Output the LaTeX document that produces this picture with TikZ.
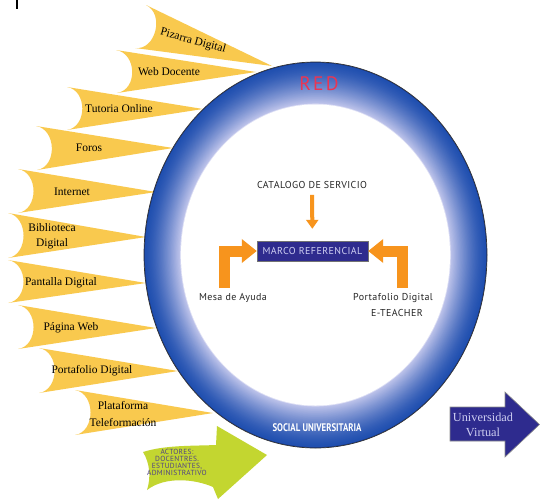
\documentclass[tikz,border=0pt]{standalone}
\usepackage{fontspec}
\setmainfont{Liberation Serif}
\newfontfamily\csans[LetterSpace=4]{PT Sans}
\newfontfamily\rsans[LetterSpace=12]{PT Sans}
\newfontfamily\bsans{PT Sans}
\usetikzlibrary{calc,arrows.meta}
\definecolor{petal}{HTML}{F9C94E}
\definecolor{ringedge}{HTML}{173C96}
\definecolor{ringdark}{HTML}{2150B0}
\definecolor{ringlight}{HTML}{BCC2EA}
\definecolor{orng}{HTML}{F7941D}
\definecolor{navy}{HTML}{2E2B8E}
\definecolor{lime}{HTML}{C3D630}
\definecolor{actxt}{HTML}{4F4185}
\definecolor{redtxt}{HTML}{EC3552}
\definecolor{boxtxt}{HTML}{CFCFF2}
\begin{document}
\begin{tikzpicture}[x=1pt,y=-1pt,
  ptxt/.style={font=\fontsize{11.5}{15}\selectfont, text=black, inner sep=0, align=center},
  stxt/.style={font=\csans\fontsize{10}{15}\selectfont, text=black!85, inner sep=0, align=center},
  orngarrow/.style={draw=orng, line width=11pt, -{Triangle[width=23pt,length=15pt]}}]
\useasboundingbox (0,0) rectangle (540,499);
\fill[white] (0,0) rectangle (540,499);
\draw[line width=1.5pt] (17,0) -- (17,9);
% petals
\foreach \tx/\ty/\bx/\by/\px/\py in {
  146/5/135/48/272/66,
  116/50/117/93/256/72,
  67/87/67/130/203/109,
  36/126/37/170/173/148,
  18/169/18/213/156/192,
  8/213/8/258/146/237,
  8/260/8/303/146/283,
  18/305/18/349/156/328,
  39/348/39/393/178/371,
  75/390/75/435/213/413}{
  \fill[petal] (\tx,\ty) -- (\px,\py) -- (\bx,\by)
    .. controls ($(\bx,\by)!0.15!(\px,\py)$) and ($(\tx,\ty)!0.15!(\px,\py)$) .. (\tx,\ty) -- cycle;
}
\node[ptxt, rotate=-15] (p1) at (193,41) {Pizarra Digital};
\node[ptxt] (p2) at (169,72) {Web Docente};
\node[ptxt] (p3) at (119,109) {Tutoria Online};
\node[ptxt] (p4) at (89,148) {Foros};
\node[ptxt] (p5) at (72,192) {Internet};
\node[ptxt] (p6) at (52,236) {Biblioteca\\Digital};
\node[ptxt] (p7) at (61,283) {Pantalla Digital};
\node[ptxt] (p8) at (71,328) {Página Web};
\node[ptxt] (p9) at (92,371) {Portafolio Digital};
\node[ptxt, font=\fontsize{11.5}{17}\selectfont] (p10) at (123,414) {Plataforma\\Teleformación};
% ring
\fill[ringedge] (315.5,255) ellipse [x radius=171.5pt, y radius=193pt];
\foreach \i in {0,...,60}{
  \pgfmathsetmacro\f{\i/60}
  \pgfmathsetmacro\rx{170.5-\f*(170.5-136)}
  \pgfmathsetmacro\ry{192-\f*(192-152)}
  \pgfmathsetmacro\p{100*\f^1.4}
  \colorlet{cc}{ringlight!\p!ringdark}
  \fill[cc] (315.5,255) ellipse [x radius=\rx pt, y radius=\ry pt];
}
\fill[ringlight!50!white] (315.5,255) ellipse [x radius=135.3pt, y radius=151.3pt];
\fill[white] (315.5,255) ellipse [x radius=134.5pt, y radius=150.5pt];
\draw[black!80, line width=0.7pt] (315.5,255) ellipse [x radius=171.5pt, y radius=193pt];
\node[font=\rsans\fontsize{19.5}{19.5}\selectfont, text=redtxt, inner sep=0] (red) at (319,84) {RED};
\node[font=\bsans\bfseries\fontsize{11}{11}\selectfont, text=white, inner sep=0] (social) at (317,428) {\scalebox{0.8}[1]{SOCIAL UNIVERSITARIA}};
% centre
\node[stxt] (cat) at (312,185) {CATALOGO DE SERVICIO};
\node[draw=black!55, fill=navy, minimum width=111pt, minimum height=20pt, inner sep=0,
  font=\csans\fontsize{10}{10}\selectfont, text=boxtxt] (marco) at (312.5,251) {MARCO REFERENCIAL};
\node[stxt] (mesa) at (233,298) {Mesa de Ayuda};
\node[stxt] (port) at (393,298) {Portafolio Digital};
\node[stxt] (etea) at (397,313) {E-TEACHER};
\draw[draw=orng, line width=4pt, -{Triangle[width=12pt,length=9pt]}, shorten <=6pt, shorten >=12pt] (cat) -- (marco);
\coordinate (mesaA) at (224.5,288);
\coordinate (portA) at (402,288);
\draw[orngarrow] (mesaA) |- (marco.west);
\draw[orngarrow] (portA) |- (marco.east);
% actores arrow
\fill[lime] (143,452) .. controls (165,445) and (192,446) .. (216,445) -- (217,426) -- (267,455) -- (218,499) -- (213,487)
  .. controls (195,479) and (165,476) .. (147,490) .. controls (151,478) and (150,463) .. (143,452) -- cycle;
\node[font=\csans\fontsize{7.4}{7}\selectfont, text=actxt, align=center, inner sep=0] (act) at (177,462) {ACTORES:\\DOCENTRES.\\ESTUDIANTES,\\ADMINISTRATIVO};
% universidad virtual arrow
\filldraw[fill=navy, draw=black!45, line width=0.6pt] (450,407) -- (505,407) -- (505,392) -- (539.5,424.5) -- (505,457) -- (505,441) -- (450,441) -- cycle;
\node[font=\fontsize{12.3}{15}\selectfont, text=boxtxt, align=center, inner sep=0] (uv) at (483,424.5) {Universidad\\Virtual};
\end{tikzpicture}
\end{document}
